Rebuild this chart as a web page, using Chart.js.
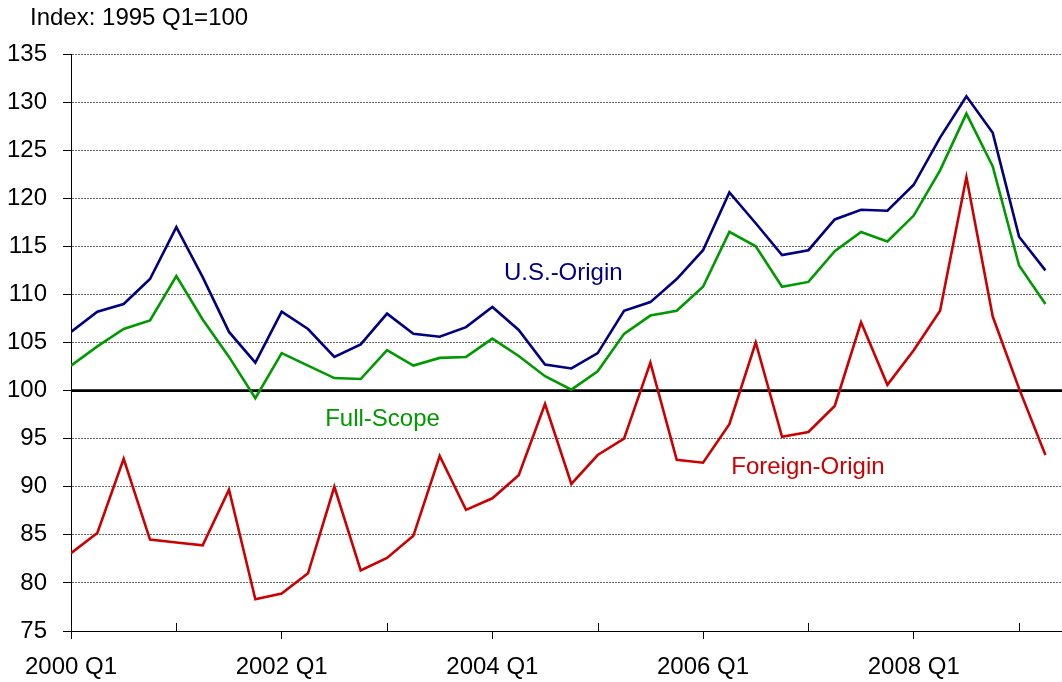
<!DOCTYPE html>
<html>
<head>
<meta charset="utf-8">
<script src="https://cdn.jsdelivr.net/npm/chart.js@4/dist/chart.umd.min.js"></script>
<style>
   html, body { margin: 0; padding: 0; background: #fff; }
   #wrap { width: 1062px; height: 682px; position: relative; }
</style>
</head>
<body>
<div id="wrap"><canvas id="chart-index"></canvas></div>
<script>
// quarters 2000 Q1 .. 2009 Q2
var quarters = [
   "2000 Q1", "2000 Q2", "2000 Q3", "2000 Q4",
   "2001 Q1", "2001 Q2", "2001 Q3", "2001 Q4",
   "2002 Q1", "2002 Q2", "2002 Q3", "2002 Q4",
   "2003 Q1", "2003 Q2", "2003 Q3", "2003 Q4",
   "2004 Q1", "2004 Q2", "2004 Q3", "2004 Q4",
   "2005 Q1", "2005 Q2", "2005 Q3", "2005 Q4",
   "2006 Q1", "2006 Q2", "2006 Q3", "2006 Q4",
   "2007 Q1", "2007 Q2", "2007 Q3", "2007 Q4",
   "2008 Q1", "2008 Q2", "2008 Q3", "2008 Q4",
   "2009 Q1", "2009 Q2"
];

var usOrigin = [
   106.1, 108.2, 109.0, 111.6, 117.0, 111.8, 106.1, 102.9,
   108.2, 106.4, 103.5, 104.8, 108.0, 105.9, 105.6, 106.6,
   108.7, 106.3, 102.7, 102.3, 103.9, 108.3, 109.2, 111.6,
   114.6, 120.6, 117.4, 114.1, 114.6, 117.8, 118.8, 118.7,
   121.4, 126.3, 130.6, 126.8, 116.0, 112.5
];

var fullScope = [
   102.6, 104.6, 106.4, 107.3, 111.9, 107.4, 103.5, 99.2,
   103.9, 102.6, 101.3, 101.2, 104.2, 102.6, 103.4, 103.5,
   105.4, 103.6, 101.5, 100.1, 102.0, 105.9, 107.8, 108.3,
   110.8, 116.5, 115.0, 110.8, 111.3, 114.5, 116.5, 115.5,
   118.2, 122.9, 128.8, 123.3, 113.0, 109.0
];

var foreignOrigin = [
   83.1, 85.2, 92.9, 84.5, 84.2, 83.9, 89.7, 78.3,
   78.9, 81.0, 90.0, 81.3, 82.6, 84.9, 93.2, 87.6,
   88.8, 91.2, 98.6, 90.3, 93.3, 95.0, 102.9, 92.8,
   92.5, 96.5, 105.0, 95.2, 95.7, 98.4, 107.1, 100.6,
   104.2, 108.3, 122.2, 107.7, 100.2, 93.3
];

var yTicks = [75, 80, 85, 90, 95, 100, 105, 110, 115, 120, 125, 130, 135];
var baseLine = 100;
var unitsLabel = "Index: 1995 Q1=100";

var FONT = "Arial, 'Liberation Sans', sans-serif";

function toPoints(values) {
   return values.map(function (v, i) {
      return { x: i, y: v };
   });
}

// series names written inside the plot, placed in data units
var seriesNotes = [
   { text: "U.S.-Origin", x: 16.44, y: 111.5, color: "#000080" },
   { text: "Full-Scope", x: 9.65, y: 96.3, color: "#009900" },
   { text: "Foreign-Origin", x: 25.07, y: 91.3, color: "#CC0000" },
];

var extras = {
   id: "extras",
   beforeDatasetsDraw: function (chart) {
      var ctx = chart.ctx;
      var xs = chart.scales.x;
      var ys = chart.scales.y;
      var area = chart.chartArea;

      // 100 reference line
      var y100 = ys.getPixelForValue(baseLine);
      ctx.save();
      ctx.strokeStyle = "#000";
      ctx.lineWidth = 2.7;
      ctx.beginPath();
      ctx.moveTo(area.left, y100);
      ctx.lineTo(area.right, y100);
      ctx.stroke();

      // minor year ticks point upward
      ctx.lineWidth = 1;
      ctx.beginPath();
      for (var i = 4; i < quarters.length; i += 8) {
         var px = Math.round(xs.getPixelForValue(i)) + 0.5;
         ctx.moveTo(px, area.bottom);
         ctx.lineTo(px, area.bottom - 8);
      }
      ctx.stroke();
      ctx.restore();
   },
   afterDraw: function (chart) {
      var ctx = chart.ctx;
      var xs = chart.scales.x;
      var ys = chart.scales.y;
      ctx.save();
      ctx.font = "24px " + FONT;
      ctx.textAlign = "left";
      ctx.textBaseline = "alphabetic";
      ctx.fillStyle = "#000";
      ctx.fillText(unitsLabel, 30, 25);
      seriesNotes.forEach(function (n) {
         ctx.fillStyle = n.color;
         ctx.fillText(n.text, xs.getPixelForValue(n.x), ys.getPixelForValue(n.y));
      });
      ctx.restore();
   },
};

function lineSet(label, values, color) {
   return {
      label: label,
      data: toPoints(values),
      borderColor: color,
      backgroundColor: color,
      borderWidth: 2.6,
      pointRadius: 0,
      tension: 0,
      fill: false,
   };
}

var ctxIndex = document.getElementById("chart-index").getContext("2d");

window.grafica = new Chart(ctxIndex, {
   type: "line",
   plugins: [extras],
   data: {
      datasets: [
         lineSet("U.S.-Origin", usOrigin, "#000080"),
         lineSet("Full-Scope", fullScope, "#009900"),
         lineSet("Foreign-Origin", foreignOrigin, "#CC0000"),
      ],
   },
   options: {
      responsive: true,
      maintainAspectRatio: false,
      animation: false,
      layout: {
         padding: { top: 54, left: 0, right: 0, bottom: 0 },
      },
      plugins: {
         legend: { display: false },
         tooltip: { enabled: false },
      },
      scales: {
         x: {
            type: "linear",
            min: 0,
            max: 37.63,
            afterFit: function (scale) {
               scale.height = 51;
            },
            border: { display: true, color: "#000", width: 1 },
            grid: {
               display: true,
               drawOnChartArea: false,
               drawTicks: true,
               tickLength: 8,
               tickColor: function (c) {
                  return c.tick && c.tick.value % 8 === 0 ? "#000" : "rgba(0,0,0,0)";
               },
            },
            ticks: {
               stepSize: 4,
               includeBounds: false,
               autoSkip: false,
               maxRotation: 0,
               padding: 14,
               color: "#000",
               font: { size: 24, family: FONT },
               callback: function (value) {
                  return value % 8 === 0 ? quarters[value] : "";
               },
            },
         },
         y: {
            min: 75,
            max: 135,
            afterFit: function (scale) {
               scale.width = 71;
            },
            afterBuildTicks: function (scale) {
               scale.ticks = yTicks.map(function (v) {
                  return { value: v };
               });
            },
            border: { display: true, color: "#000", width: 1, dash: [2, 1] },
            grid: {
               display: true,
               drawOnChartArea: true,
               drawTicks: true,
               tickLength: 8,
               color: "#6a6a6a",
               lineWidth: 1,
               tickColor: "#000",
               tickBorderDash: [],
            },
            ticks: {
               padding: 16,
               color: "#000",
               font: { size: 24, family: FONT },
            },
         },
      },
   },
});
</script>
</body>
</html>
